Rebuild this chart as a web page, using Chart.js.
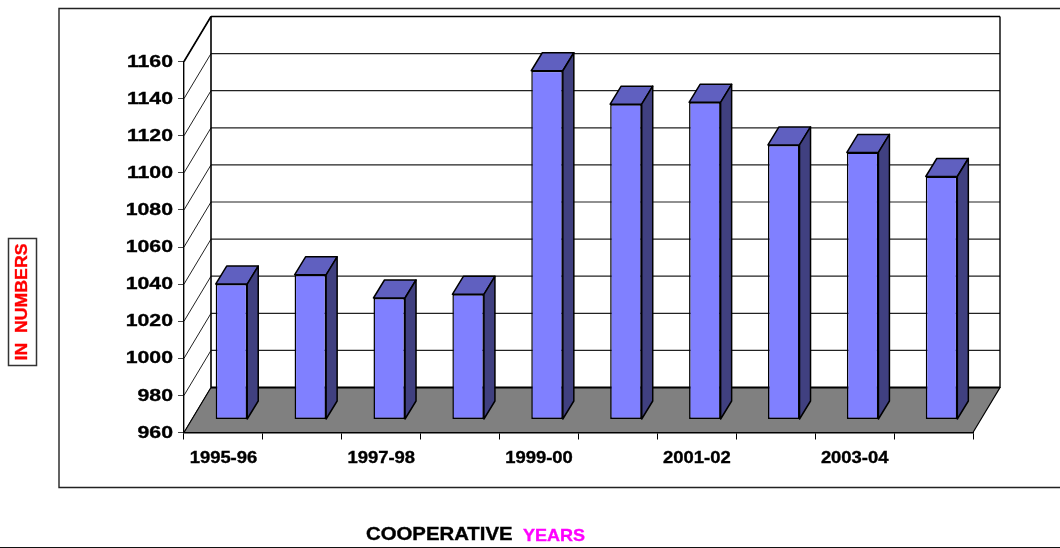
<!DOCTYPE html>
<html>
<head>
<meta charset="utf-8">
<title>Cooperative years</title>
<script src="https://cdn.jsdelivr.net/npm/chart.js@4"></script>
<style>
    body { margin: 0; background: #fff; }
    canvas { display: block; }
</style>
</head>
<body>
<canvas id="chart" width="1060" height="548"></canvas>
<script>
// Values
const years = ['1995-96', '1996-97', '1997-98', '1998-99', '1999-00', '2000-01', '2001-02', '2002-03', '2003-04', '2004-05'];
const counts = [1033, 1038, 1025.5, 1027.5, 1148, 1130, 1131, 1108, 1104, 1091];
const yMin = 960;
const yMax = 1160;
const yStep = 20;

// Depth of the 3D box and of the bars, in pixels
const wallDx = 27, wallDy = -45;
const barShiftX = 8, barShiftY = -13;
const barDx = 11, barDy = -18;

const FONT = '"Liberation Sans", Arial, sans-serif';

// Arial in the original is stretched sideways, so text is drawn with a x scale
const wideText = (ctx, text, x, y, size, stretch, color, align) => {
    ctx.save();
    ctx.translate(x, y);
    ctx.scale(stretch, 1);
    ctx.font = `bold ${size}px ${FONT}`;
    ctx.fillStyle = color;
    ctx.strokeStyle = color;
    ctx.lineWidth = 0.35;
    ctx.textAlign = align;
    ctx.textBaseline = 'middle';
    ctx.fillText(text, 0, 0);
    ctx.strokeText(text, 0, 0);
    ctx.restore();
};

const line = (ctx, x1, y1, x2, y2, width, color) => {
    ctx.beginPath();
    ctx.moveTo(x1, y1);
    ctx.lineTo(x2, y2);
    ctx.lineWidth = width;
    ctx.strokeStyle = color || '#000';
    ctx.stroke();
};

// Frame, back wall, side wall and floor
const boxPlugin = {
    id: 'box',
    beforeDraw(chart) {
        const { ctx, chartArea: a, scales: { y } } = chart;
        ctx.save();
        ctx.fillStyle = '#fff';
        ctx.fillRect(0, 0, chart.width, chart.height);

        // outer frame runs off the right edge
        ctx.beginPath();
        ctx.moveTo(1062, 8.5);
        ctx.lineTo(59, 8.5);
        ctx.lineTo(59, 487.5);
        ctx.lineTo(1062, 487.5);
        ctx.lineWidth = 1.4;
        ctx.strokeStyle = '#222';
        ctx.stroke();
        line(ctx, 0, 547.5, 1060, 547.5, 1.2, '#111');

        // grid on both walls
        y.ticks.forEach((t) => {
            const py = y.getPixelForValue(t.value);
            line(ctx, a.left, py, a.left + wallDx, py + wallDy, 1, '#222');
            line(ctx, a.left + wallDx, py + wallDy, a.right + wallDx, py + wallDy, 1.2, '#222');
        });

        // floor
        const fy = y.getPixelForValue(yMin);
        ctx.beginPath();
        ctx.moveTo(a.left, fy);
        ctx.lineTo(a.left + wallDx, fy + wallDy);
        ctx.lineTo(a.right + wallDx, fy + wallDy);
        ctx.lineTo(a.right, fy);
        ctx.closePath();
        ctx.fillStyle = '#808080';
        ctx.fill();
        ctx.lineWidth = 1.2;
        ctx.strokeStyle = '#000';
        ctx.stroke();

        // wall outlines
        const ty = y.getPixelForValue(yMax);
        line(ctx, a.left + wallDx, ty + wallDy, a.left + wallDx, fy + wallDy, 1.6);
        line(ctx, a.right + wallDx, ty + wallDy, a.right + wallDx, fy + wallDy, 1.4);
        line(ctx, a.left, ty, a.left + wallDx, ty + wallDy, 1.6);
        line(ctx, a.left + wallDx, ty + wallDy, a.right + wallDx, ty + wallDy, 1.6);
        line(ctx, a.left + wallDx, fy + wallDy, a.right + wallDx, fy + wallDy, 1.8);
        ctx.restore();
    }
};

// Moves the bars onto the floor and adds their top and side faces
const depthPlugin = {
    id: 'depth',
    beforeDatasetDraw(chart) {
        const { ctx } = chart;
        ctx.save();
        ctx.translate(barShiftX, barShiftY);
    },
    afterDatasetDraw(chart, args) {
        const { ctx } = chart;
        ctx.lineWidth = 1.5;
        ctx.strokeStyle = '#000';
        ctx.lineJoin = 'round';
        args.meta.data.forEach((bar) => {
            const left = bar.x - bar.width / 2;
            const right = bar.x + bar.width / 2;
            ctx.beginPath();
            ctx.moveTo(left, bar.y);
            ctx.lineTo(left + barDx, bar.y + barDy);
            ctx.lineTo(right + barDx, bar.y + barDy);
            ctx.lineTo(right, bar.y);
            ctx.closePath();
            ctx.fillStyle = '#6060c0';
            ctx.fill();
            ctx.stroke();

            ctx.beginPath();
            ctx.moveTo(right, bar.y);
            ctx.lineTo(right + barDx, bar.y + barDy);
            ctx.lineTo(right + barDx, bar.base + barDy);
            ctx.lineTo(right, bar.base);
            ctx.closePath();
            ctx.fillStyle = '#404080';
            ctx.fill();
            ctx.stroke();
        });
        ctx.restore();
    }
};

// Tick labels and the two axis captions
const labelPlugin = {
    id: 'labels',
    afterDraw(chart) {
        const { ctx, scales: { x, y } } = chart;
        y.ticks.forEach((t) => {
            wideText(ctx, t.label, 173, y.getPixelForValue(t.value) + 0.5, 17, 1.25, '#000', 'right');
        });
        x.ticks.forEach((t, i) => {
            if (t.label) wideText(ctx, t.label, x.getPixelForTick(i), 458.5, 16, 1.15, '#000', 'center');
        });

        wideText(ctx, 'COOPERATIVE', 366, 535.5, 18, 1.13, '#000', 'left');
        wideText(ctx, 'YEARS', 523, 536, 17, 1.06, '#ff00ff', 'left');

        ctx.save();
        ctx.lineWidth = 1.5;
        ctx.strokeStyle = '#333';
        ctx.strokeRect(8.5, 238.5, 28, 127);
        ctx.translate(22, 302);
        ctx.rotate(-Math.PI / 2);
        wideText(ctx, 'IN  NUMBERS', 0, 0, 17, 1.04, '#ff0000', 'center');
        ctx.restore();
    }
};

new Chart(document.getElementById('chart'), {
    type: 'bar',
    data: {
        labels: years,
        datasets: [{
            data: counts,
            base: yMin,
            backgroundColor: '#8080ff',
            borderColor: '#000',
            borderWidth: 1.5,
            borderSkipped: false,
            barPercentage: 0.4,
            categoryPercentage: 1,
            clip: false
        }]
    },
    options: {
        responsive: false,
        animation: false,
        layout: { padding: { top: 61.5, right: 87, left: 0, bottom: 0 } },
        plugins: {
            legend: { display: false },
            tooltip: { enabled: false }
        },
        scales: {
            x: {
                afterFit: (scale) => { scale.height = 115.5; },
                border: { color: '#000', width: 1.4 },
                grid: { drawOnChartArea: false, tickLength: 7, color: '#000', offset: true },
                ticks: {
                    display: false,
                    autoSkip: false,
                    callback(value, index) {
                        return index % 2 ? '' : years[index];
                    }
                }
            },
            y: {
                min: yMin,
                max: yMax,
                afterFit: (scale) => { scale.width = 184; },
                border: { color: '#000', width: 1.4 },
                grid: { drawOnChartArea: false, tickLength: 6, color: '#444' },
                ticks: {
                    display: false,
                    stepSize: yStep,
                    callback: (value) => String(value)
                }
            }
        }
    },
    plugins: [boxPlugin, depthPlugin, labelPlugin]
});
</script>
</body>
</html>
